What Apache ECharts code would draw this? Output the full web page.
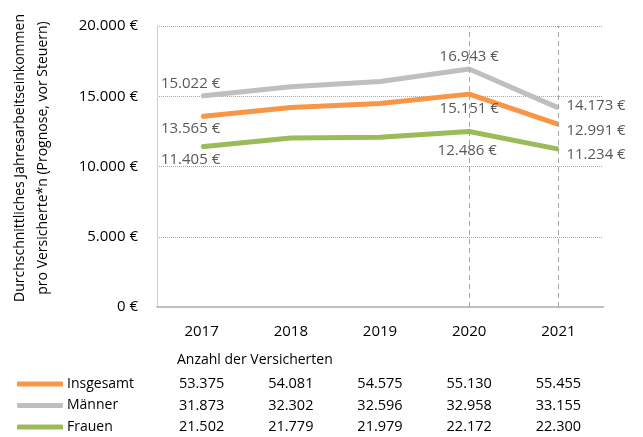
<!DOCTYPE html>
<html>
<head>
<meta charset="utf-8">
<script src="https://cdn.jsdelivr.net/npm/echarts@6/dist/echarts.min.js"></script>
<style>
  html, body { margin: 0; padding: 0; background: #fff; }
  #chart { width: 643px; height: 437px; }
</style>
</head>
<body>
<div id="chart"></div>
<script>
const years = ['2017', '2018', '2019', '2020', '2021']
// Einkommen (Euro)
const insgesamt = [13565, 14205, 14490, 15151, 12991]
const maenner = [15022, 15673, 16050, 16943, 14173]
const frauen = [11405, 12035, 12080, 12486, 11234]
// Anzahl der Versicherten
const insgesamtAnzahl = [53375, 54081, 54575, 55130, 55455]
const maennerAnzahl = [31873, 32302, 32596, 32958, 33155]
const frauenAnzahl = [21502, 21779, 21979, 22172, 22300]
const yTicks = [0, 5000, 10000, 15000, 20000]

const FONT = '"Open Sans", sans-serif'
const fmt = v => String(v).replace(/\B(?=(\d{3})+(?!\d))/g, '.')
const euro = v => fmt(v) + ' €'

// which points get a label and where
function labelled (values, spots) {
  return values.map((v, i) => {
    const s = spots[i]
    if (!s) return v
    return { value: v, label: Object.assign({ show: true }, s) }
  })
}

const chart = echarts.init(document.getElementById('chart'))

const labelBase = {
  formatter: p => euro(p.value),
  color: '#595959',
  fontSize: 15,
  fontFamily: FONT
}

chart.setOption({
  animation: false,
  textStyle: { fontFamily: FONT },
  grid: { left: 157, right: 40, top: 26, bottom: 130, containLabel: false },
  legend: {
    orient: 'vertical',
    left: 17,
    top: 376,
    padding: 0,
    itemWidth: 46,
    itemHeight: 5,
    itemGap: 5.5,
    textStyle: { fontSize: 14, color: '#000', fontFamily: FONT, lineHeight: 16, padding: [0, 0, 0, -1] },
    data: [
      { name: 'Insgesamt', icon: 'roundRect' },
      { name: 'Männer', icon: 'roundRect' },
      { name: 'Frauen', icon: 'roundRect' }
    ]
  },
  xAxis: {
    type: 'category',
    data: years,
    boundaryGap: true,
    axisTick: { show: false },
    axisLine: { lineStyle: { color: '#bfbfbf', width: 2 } },
    axisLabel: {
      margin: 15,
      color: '#000',
      formatter: (val, i) => `{y|${val}}\n{s| }\n{v|${fmt(insgesamtAnzahl[i])}}\n{v|${fmt(maennerAnzahl[i])}}\n{v|${fmt(frauenAnzahl[i])}}`,
      rich: {
        y: { fontSize: 15, lineHeight: 20, fontFamily: FONT, color: '#000' },
        s: { fontSize: 10, lineHeight: 31.25 },
        v: { fontSize: 14.5, lineHeight: 21.5, fontFamily: FONT, color: '#000' }
      }
    }
  },
  yAxis: {
    type: 'value',
    min: yTicks[0],
    max: yTicks[yTicks.length - 1],
    interval: 5000,
    axisLine: { show: true, lineStyle: { color: '#d0d0d0', width: 1 } },
    axisTick: { show: false },
    axisLabel: { margin: 19, fontSize: 15, color: '#000', fontFamily: FONT, formatter: v => euro(v) },
    splitLine: { lineStyle: { type: 'dotted', color: '#a6a6a6', width: 1 } }
  },
  graphic: [
    {
      type: 'text',
      left: 177,
      top: 353,
      style: { text: 'Anzahl der Versicherten', fontSize: 14, fill: '#000', fontFamily: FONT }
    },
    {
      type: 'text',
      x: 20,
      y: 158,
      rotation: Math.PI / 2,
      style: {
        text: 'Durchschnittliches Jahresarbeitseinkommen',
        fontSize: 14, fill: '#000', fontFamily: FONT, align: 'center', verticalAlign: 'middle'
      }
    },
    {
      type: 'text',
      x: 43,
      y: 158,
      rotation: Math.PI / 2,
      style: {
        text: 'pro Versicherte*n (Prognose, vor Steuern)',
        fontSize: 14, fill: '#000', fontFamily: FONT, align: 'center', verticalAlign: 'middle'
      }
    }
  ],
  series: [
    {
      name: 'Männer',
      type: 'line',
      color: '#bfbfbf',
      symbol: 'circle',
      symbolSize: 2,
      lineStyle: { width: 5 },
      label: labelBase,
      data: labelled(maenner, [
        { position: 'top', distance: 4, offset: [-11, 0] },
        null, null,
        { position: 'top', distance: 4 },
        { position: 'right', distance: 7, offset: [0, -2] }
      ]),
      markLine: {
        silent: true,
        symbol: 'none',
        label: { show: false },
        lineStyle: { type: [5, 4], color: '#a6a6a6', width: 1 },
        data: [{ xAxis: '2020' }, { xAxis: '2021' }]
      },
      z: 3
    },
    {
      name: 'Insgesamt',
      type: 'line',
      color: '#f79646',
      symbol: 'circle',
      symbolSize: 2,
      lineStyle: { width: 5 },
      label: labelBase,
      data: labelled(insgesamt, [
        { position: 'bottom', distance: 4, offset: [-11, 0] },
        null, null,
        { position: 'bottom', distance: 6 },
        { position: 'right', distance: 7, offset: [0, 6] }
      ]),
      z: 3
    },
    {
      name: 'Frauen',
      type: 'line',
      color: '#9bbb59',
      symbol: 'circle',
      symbolSize: 2,
      lineStyle: { width: 5 },
      label: labelBase,
      data: labelled(frauen, [
        { position: 'bottom', distance: 4, offset: [-11, 0] },
        null, null,
        { position: 'bottom', distance: 11, offset: [-2, 0] },
        { position: 'right', distance: 7, offset: [0, 6] }
      ]),
      z: 3
    }
  ]
})
</script>
</body>
</html>
